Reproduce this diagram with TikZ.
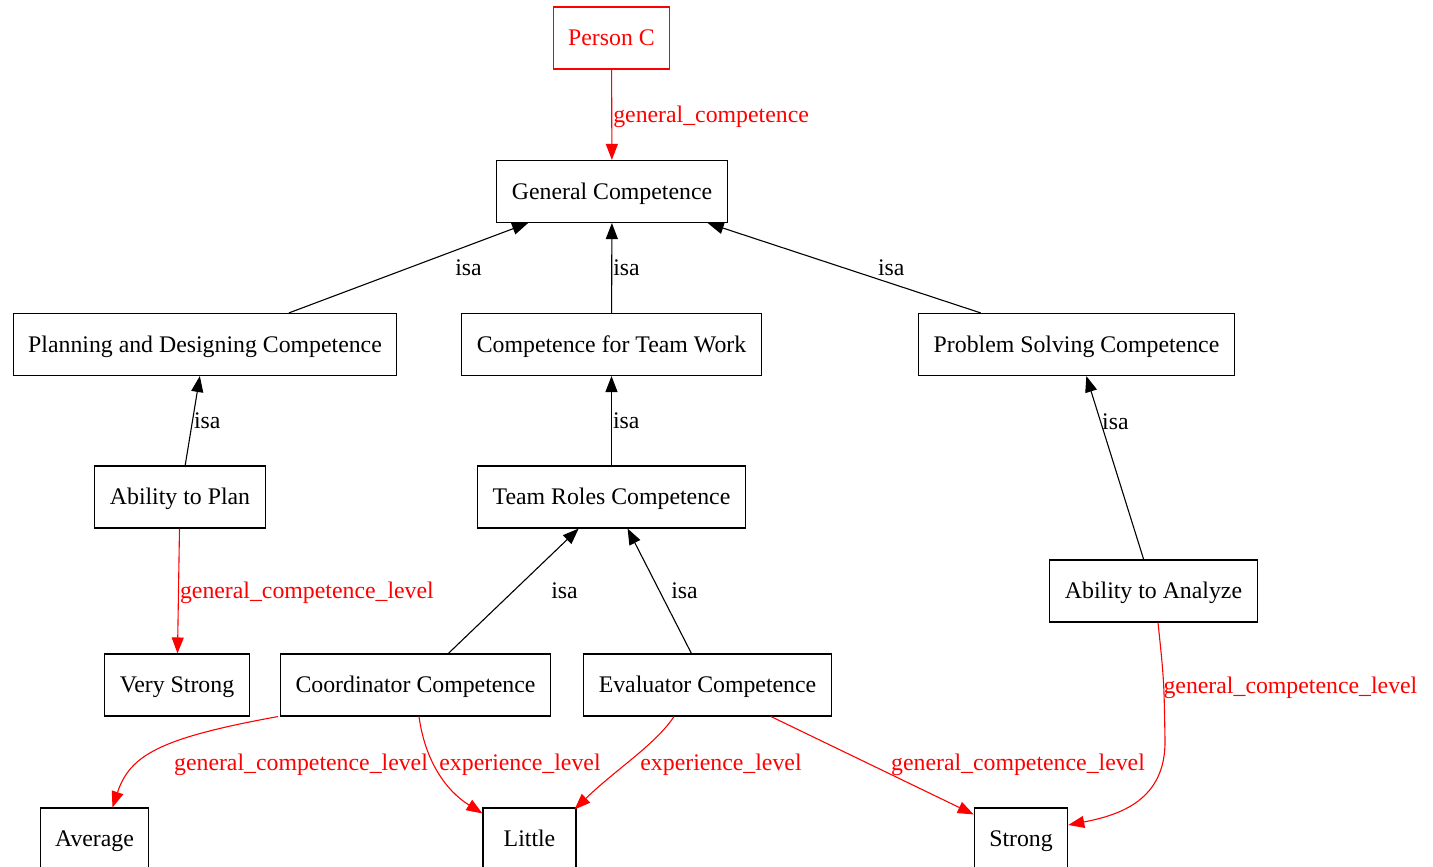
\documentclass[tikz,border=0pt]{standalone}
\usepackage{fontspec}
\setmainfont{Liberation Serif}
\usetikzlibrary{arrows.meta}

\begin{document}
\begin{tikzpicture}[x=1pt, y=-1pt,
        box/.style={draw, rectangle, line width=1.1pt, minimum height=62pt, minimum width=93pt,
            inner xsep=15pt, inner ysep=0pt, text height=17pt, text depth=2pt,
            font=\fontsize{23.8}{28}\selectfont},
        isa/.style={-{Triangle[length=16pt,width=12pt]}, line width=1.1pt},
        rel/.style={isa, red},
        lbl/.style={font=\fontsize{23.8}{28}\selectfont, inner sep=1pt, text height=17pt, text depth=2pt},
        rlbl/.style={lbl, text=red}]
        \useasboundingbox (0,0) rectangle (1433,867);

        % Nodes
        \node[box, draw=red, text=red] (person) at (611.5,38) {Person C};
        \node[box] (gen) at (612,191.5) {General Competence};
        \node[box] (plan) at (205,344.5) {Planning and Designing Competence};
        \node[box] (team) at (611.5,344.5) {Competence for Team Work};
        \node[box] (prob) at (1076.5,344.5) {Problem Solving Competence};
        \node[box] (abplan) at (180,497) {Ability to Plan};
        \node[box] (roles) at (611.5,497) {Team Roles Competence};
        \node[box] (analyze) at (1153.5,591) {Ability to Analyze};
        \node[box] (vstrong) at (177,685) {Very Strong};
        \node[box] (coord) at (415.5,685) {Coordinator Competence};
        \node[box] (eval) at (707.5,685) {Evaluator Competence};
        \node[box] (avg) at (94.5,839) {Average};
        \node[box] (little) at (529.5,839) {Little};
        \node[box] (strong) at (1021,839) {Strong};

        % isa edges
        \draw[isa] (plan) -- (gen) node[midway, lbl, xshift=60pt] {isa};
        \draw[isa] (team) -- (gen) node[midway, lbl, anchor=west] {isa};
        \draw[isa] (prob) -- (gen) node[midway, lbl, xshift=47pt] {isa};
        \draw[isa] (abplan) -- (plan) node[midway, lbl, anchor=west] {isa};
        \draw[isa] (roles) -- (team) node[midway, lbl, anchor=west] {isa};
        \draw[isa] (analyze) -- (prob) node[pos=0.75, lbl, anchor=west] {isa};
        \draw[isa] (coord) -- (roles) node[midway, lbl, xshift=51pt] {isa};
        \draw[isa] (eval) -- (roles) node[midway, lbl, xshift=25pt] {isa};

        % Relations
        \draw[rel] (person) -- (gen) node[midway, rlbl, anchor=west] {general\_competence};
        \draw[rel] (abplan) -- (vstrong) node[midway, rlbl, anchor=west] {general\_competence\_level};
        \draw[rel] ([xshift=-2pt]coord.south west) .. controls (160,738) and (130,755) .. ([xshift=18pt]avg.north)
            node[rlbl] at (301,763) {general\_competence\_level};
        \draw[rel] ([xshift=3.5pt]coord.south) .. controls (425,760) and (445,790) .. ([yshift=-6pt]little.north west)
            node[rlbl] at (520,763) {experience\_level};
        \draw[rel] ([xshift=-33.5pt]eval.south) .. controls (655,745) and (615,770) .. ([xshift=-2pt,yshift=-2pt]little.north east)
            node[rlbl] at (721,763) {experience\_level};
        \draw[rel] ([xshift=63.5pt]eval.south) -- ([yshift=-7pt]strong.north west)
            node[rlbl] at (1018,763) {general\_competence\_level};
        \draw[rel] ([xshift=4.5pt]analyze.south) .. controls (1164,680) .. (1165,740)
            .. controls (1166,800) and (1120,815) .. ([yshift=14pt]strong.east)
            node[rlbl, anchor=west] at (1162,686) {general\_competence\_level};

    \end{tikzpicture}
\end{document}
